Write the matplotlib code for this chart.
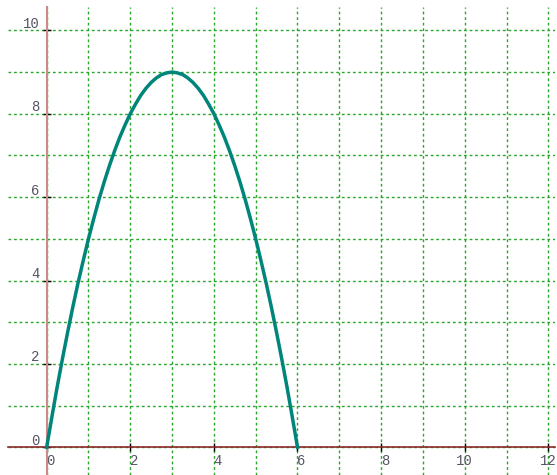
import matplotlib
matplotlib.use("Agg")
import matplotlib.pyplot as plt
import matplotlib.transforms as mtransforms

# points
xs = [0, 0.125, 0.25, 0.375, 0.5, 0.625, 0.75, 0.875, 1, 1.125, 1.25, 1.375,
      1.5, 1.625, 1.75, 1.875, 2, 2.125, 2.25, 2.375, 2.5, 2.625, 2.75, 2.875,
      3, 3.125, 3.25, 3.375, 3.5, 3.625, 3.75, 3.875, 4, 4.125, 4.25, 4.375,
      4.5, 4.625, 4.75, 4.875, 5, 5.125, 5.25, 5.375, 5.5, 5.625, 5.75, 5.875, 6]
ys = [0, 0.73, 1.44, 2.11, 2.75, 3.36, 3.94, 4.48, 5, 5.48, 5.94, 6.36,
      6.75, 7.11, 7.44, 7.73, 8, 8.23, 8.44, 8.61, 8.75, 8.86, 8.94, 8.98,
      9, 8.98, 8.94, 8.86, 8.75, 8.61, 8.44, 8.23, 8, 7.73, 7.44, 7.11,
      6.75, 6.36, 5.94, 5.48, 5, 4.48, 3.94, 3.36, 2.75, 2.11, 1.44, 0.73, 0]

x_ticks = [0, 2, 4, 6, 8, 10, 12]
y_ticks = [0, 2, 4, 6, 8, 10]
grid_vals_x = list(range(0, 13))
grid_vals_y = list(range(0, 11))

fig = plt.figure(figsize=(5.57, 4.75), dpi=100)
ax = fig.add_axes([8 / 557, 0, 547 / 557, 468 / 475])
ax.set_xlim(-0.925, 12.16)
ax.set_ylim(-0.665, 10.56)

# dashed green grid
for gx in grid_vals_x:
    ax.axvline(gx, color="#2aa62a", lw=1, ls=(0, (2, 2)), zorder=1)
for gy in grid_vals_y:
    ax.axhline(gy, color="#2aa62a", lw=1, ls=(0, (2, 2)), zorder=1)

ax.plot(xs, ys, color="#00857a", lw=2.5, zorder=4, solid_joinstyle="round")

# axes through origin
for s in ["top", "right"]:
    ax.spines[s].set_visible(False)
ax.spines["left"].set_position(("data", 0))
ax.spines["bottom"].set_position(("data", 0))
ax.spines["left"].set_color("#cc8a8a")
ax.spines["bottom"].set_color("#8b2a2a")
ax.spines["left"].set_linewidth(1.5)
ax.spines["bottom"].set_linewidth(1.2)
ax.spines["left"].set_zorder(3)
ax.spines["bottom"].set_zorder(3)

ax.set_xticks(x_ticks)
ax.set_yticks(y_ticks)
ax.set_xticklabels([str(v) for v in x_ticks])
ax.set_yticklabels([str(v) for v in y_ticks])
ax.tick_params(axis="both", direction="inout", length=6, width=1, color="black",
               labelsize=10, labelcolor="#555566", pad=2)
for lab in ax.get_xticklabels():
    lab.set_fontfamily("Liberation Mono")
    shift = 4 if len(lab.get_text()) == 1 else 0
    lab.set_transform(lab.get_transform() + mtransforms.ScaledTranslation(shift / 100, 0, fig.dpi_scale_trans))
for lab in ax.get_yticklabels():
    lab.set_fontfamily("Liberation Mono")
    lab.set_transform(lab.get_transform() + mtransforms.ScaledTranslation(0, 8 / 100, fig.dpi_scale_trans))

fig.savefig("out.png", dpi=100)
